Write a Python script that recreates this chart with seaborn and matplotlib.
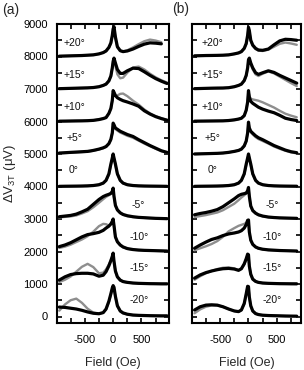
import matplotlib
matplotlib.use("Agg")
import matplotlib.pyplot as plt
import seaborn as sns
import numpy as np
from matplotlib.ticker import MultipleLocator, FixedLocator, NullFormatter

# ---------------- data ----------------
field = [-950, -850, -750, -650, -550, -450, -350, -250, -175, -125, -75, -40, -15,
         0, 15, 40, 75, 125, 175, 250, 350, 450, 550, 650, 750, 850, 950]
angles = ["+20°", "+15°", "+10°", "+5°", "0°", "-5°", "-10°", "-15°", "-20°"]

# panel (a): black (k) and gray (g) traces, already offset
a_p20_k = [8010, 8015, 8020, 8025, 8030, 8040, 8050, 8080, 8120, 8170, 8280, 8420, 8650, 8850, 8920, 8600, 8300, 8180, 8150, 8170, 8230, 8310, 8380, 8420, 8410, 8390]
a_p20_g = [8010, 8015, 8020, 8025, 8030, 8040, 8050, 8080, 8120, 8170, 8270, 8400, 8620, 8820, 8880, 8560, 8280, 8170, 8150, 8190, 8280, 8380, 8470, 8520, 8490, 8440]
a_p15_k = [7010, 7015, 7020, 7025, 7030, 7035, 7045, 7070, 7110, 7150, 7250, 7400, 7650, 7850, 7950, 7800, 7600, 7480, 7480, 7560, 7640, 7630, 7530, 7420, 7320, 7240, 7170]
a_p15_g = [7010, 7015, 7020, 7025, 7030, 7035, 7045, 7070, 7110, 7150, 7250, 7400, 7640, 7830, 7920, 7700, 7450, 7330, 7350, 7500, 7660, 7690, 7600, 7470, 7360, 7270, 7200]
a_p10_k = [6010, 6012, 6015, 6018, 6020, 6025, 6035, 6060, 6090, 6120, 6250, 6400, 6650, 6950, 6900, 6800, 6730, 6680, 6640, 6600, 6540, 6470, 6330, 6230, 6150, 6090, 6040]
a_p10_g = [6010, 6012, 6015, 6018, 6020, 6025, 6035, 6060, 6090, 6120, 6250, 6400, 6640, 6900, 6850, 6780, 6800, 6850, 6860, 6780, 6640, 6520, 6370, 6250, 6160, 6100, 6050]
a_p5_k = [5030, 5040, 5050, 5060, 5070, 5080, 5110, 5150, 5190, 5230, 5320, 5450, 5650, 5950, 5900, 5800, 5760, 5700, 5660, 5600, 5540, 5440, 5350, 5260, 5180, 5100, 5050]
a_p5_g = [5020, 5030, 5040, 5050, 5060, 5070, 5100, 5140, 5180, 5220, 5310, 5440, 5640, 5930, 5870, 5770, 5720, 5660, 5620, 5560, 5500, 5410, 5320, 5240, 5160, 5090, 5040]
a_0_k = [4005, 4008, 4010, 4012, 4015, 4020, 4030, 4055, 4105, 4190, 4390, 4690, 4880, 5000, 4880, 4690, 4390, 4190, 4105, 4055, 4030, 4020, 4015, 4012, 4010, 4008, 4005]
a_0_g = [4000, 4003, 4005, 4008, 4010, 4015, 4025, 4050, 4100, 4180, 4370, 4660, 4850, 4980, 4860, 4670, 4380, 4180, 4100, 4050, 4025, 4015, 4010, 4008, 4005, 4003, 4000]
a_m5_k = [3070, 3090, 3110, 3150, 3220, 3300, 3450, 3600, 3690, 3730, 3760, 3790, 3850, 3950, 3700, 3420, 3280, 3190, 3140, 3100, 3070, 3050, 3040, 3030, 3020, 3015, 3010]
a_m5_g = [3050, 3065, 3080, 3110, 3170, 3240, 3360, 3500, 3610, 3680, 3730, 3770, 3840, 3940, 3690, 3410, 3270, 3180, 3130, 3090, 3060, 3045, 3035, 3025, 3018, 3012, 3008]
a_m10_k = [2150, 2200, 2270, 2360, 2450, 2520, 2550, 2590, 2650, 2720, 2780, 2850, 2930, 3000, 2800, 2450, 2300, 2200, 2140, 2090, 2060, 2045, 2035, 2030, 2025, 2020, 2015]
a_m10_g = [2110, 2150, 2210, 2290, 2370, 2470, 2610, 2780, 2850, 2840, 2800, 2830, 2910, 2980, 2780, 2430, 2290, 2190, 2130, 2085, 2055, 2040, 2030, 2025, 2020, 2015, 2010]
a_m15_k = [1120, 1220, 1290, 1320, 1330, 1330, 1310, 1240, 1270, 1380, 1560, 1720, 1850, 1950, 1700, 1400, 1220, 1120, 1075, 1050, 1030, 1020, 1015, 1010, 1008, 1005, 1005]
a_m15_g = [1060, 1130, 1230, 1380, 1530, 1620, 1520, 1330, 1350, 1450, 1600, 1730, 1840, 1930, 1680, 1380, 1210, 1110, 1070, 1045, 1028, 1018, 1012, 1008, 1005, 1003, 1002]
a_m20_k = [290, 280, 255, 230, 190, 140, 100, 85, 120, 230, 470, 700, 880, 950, 900, 620, 330, 170, 110, 70, 45, 35, 30, 25, 22, 20, 20]
a_m20_g = [180, 370, 500, 550, 420, 240, 120, 85, 115, 220, 450, 680, 860, 930, 880, 600, 320, 160, 100, 65, 40, 30, 25, 20, 18, 15, 15]

# panel (b)
b_p20_k = [8020, 8025, 8030, 8032, 8035, 8040, 8050, 8080, 8110, 8150, 8250, 8400, 8650, 8900, 8800, 8500, 8350, 8250, 8200, 8190, 8230, 8360, 8480, 8530, 8520, 8500]
b_p20_g = [8020, 8025, 8030, 8032, 8035, 8040, 8050, 8080, 8110, 8150, 8240, 8380, 8620, 8870, 8780, 8480, 8330, 8230, 8180, 8170, 8210, 8300, 8390, 8430, 8400, 8360]
b_p15_k = [7010, 7015, 7020, 7025, 7028, 7030, 7040, 7070, 7110, 7150, 7260, 7420, 7650, 7900, 7950, 7800, 7650, 7500, 7450, 7500, 7560, 7510, 7420, 7340, 7260, 7180]
b_p15_g = [7010, 7015, 7020, 7025, 7028, 7030, 7040, 7070, 7110, 7150, 7250, 7400, 7630, 7880, 7920, 7760, 7600, 7450, 7400, 7470, 7540, 7480, 7380, 7280, 7180, 7090]
b_p10_k = [6010, 6012, 6014, 6016, 6018, 6020, 6030, 6050, 6075, 6100, 6180, 6350, 6600, 6950, 6750, 6620, 6560, 6500, 6440, 6380, 6320, 6270, 6190, 6100, 6060, 6030]
b_p10_g = [6010, 6012, 6014, 6016, 6018, 6020, 6030, 6050, 6075, 6100, 6180, 6340, 6590, 6920, 6780, 6700, 6680, 6660, 6640, 6590, 6510, 6430, 6330, 6240, 6180, 6130]
b_p5_k = [5000, 5005, 5010, 5015, 5020, 5030, 5050, 5080, 5110, 5150, 5250, 5400, 5650, 5980, 5800, 5700, 5640, 5560, 5500, 5440, 5350, 5260, 5190, 5120, 5070, 5040]
b_p5_g = [5000, 5005, 5010, 5015, 5020, 5030, 5050, 5080, 5110, 5150, 5240, 5390, 5630, 5950, 5770, 5670, 5600, 5520, 5460, 5400, 5320, 5230, 5160, 5100, 5050, 5020]
b_0_k = [4005, 4008, 4010, 4012, 4015, 4020, 4030, 4055, 4105, 4190, 4390, 4690, 4880, 5000, 4880, 4690, 4390, 4190, 4105, 4055, 4030, 4020, 4015, 4012, 4010, 4008]
b_0_g = [4000, 4003, 4005, 4008, 4010, 4015, 4025, 4050, 4100, 4180, 4370, 4660, 4850, 4980, 4860, 4670, 4380, 4180, 4100, 4050, 4025, 4015, 4010, 4008, 4005, 4003]
b_m5_k = [3130, 3170, 3200, 3240, 3290, 3380, 3500, 3620, 3720, 3760, 3780, 3800, 3870, 3970, 3700, 3400, 3260, 3180, 3130, 3090, 3060, 3045, 3035, 3030, 3025, 3020]
b_m5_g = [3060, 3090, 3120, 3160, 3200, 3270, 3370, 3470, 3580, 3660, 3730, 3780, 3860, 3960, 3690, 3390, 3250, 3170, 3120, 3085, 3055, 3040, 3030, 3025, 3020, 3015]
b_m10_k = [2100, 2200, 2290, 2370, 2420, 2490, 2540, 2570, 2600, 2640, 2720, 2830, 2960, 2970, 2600, 2350, 2220, 2140, 2100, 2070, 2050, 2040, 2030, 2025, 2020, 2015]
b_m10_g = [2040, 2100, 2160, 2230, 2320, 2450, 2620, 2720, 2790, 2820, 2850, 2880, 2950, 2960, 2590, 2340, 2210, 2130, 2090, 2065, 2045, 2035, 2028, 2022, 2018, 2012]
b_m15_k = [1180, 1280, 1350, 1400, 1440, 1470, 1480, 1460, 1420, 1470, 1620, 1780, 1920, 1900, 1550, 1300, 1150, 1080, 1050, 1030, 1020, 1015, 1010, 1008, 1006, 1005]
b_m15_g = [1130, 1240, 1330, 1400, 1460, 1500, 1510, 1480, 1430, 1470, 1600, 1760, 1900, 1890, 1540, 1290, 1140, 1075, 1045, 1028, 1018, 1012, 1008, 1006, 1004, 1003]
b_m20_k = [200, 300, 350, 360, 350, 300, 230, 170, 150, 200, 400, 700, 930, 920, 600, 330, 170, 90, 60, 40, 30, 25, 20, 15, 12, 10]
b_m20_g = [100, 220, 300, 340, 340, 300, 230, 170, 150, 195, 390, 690, 910, 900, 590, 320, 165, 85, 55, 38, 28, 22, 18, 14, 11, 9]

label_y = [8420, 7435, 6450, 5500, 4515, 3435, 2450, 1500, 515]

panel_a_black = [a_p20_k, a_p15_k, a_p10_k, a_p5_k, a_0_k, a_m5_k, a_m10_k, a_m15_k, a_m20_k]
panel_a_gray = [a_p20_g, a_p15_g, a_p10_g, a_p5_g, a_0_g, a_m5_g, a_m10_g, a_m15_g, a_m20_g]
panel_b_black = [b_p20_k, b_p15_k, b_p10_k, b_p5_k, b_0_k, b_m5_k, b_m10_k, b_m15_k, b_m20_k]
panel_b_gray = [b_p20_g, b_p15_g, b_p10_g, b_p5_g, b_0_g, b_m5_g, b_m10_g, b_m15_g, b_m20_g]

# ---------------- style ----------------
sns.set_style("ticks")
plt.rcParams["font.family"] = ["Liberation Sans", "DejaVu Sans"]
plt.rcParams["axes.unicode_minus"] = False
plt.rcParams["mathtext.fontset"] = "custom"
plt.rcParams["mathtext.rm"] = "Liberation Sans"
plt.rcParams["mathtext.it"] = "Liberation Sans:italic"

W, H = 304, 370
fig = plt.figure(figsize=(W / 100, H / 100), dpi=100)
ax_a = fig.add_axes([57 / W, 1 - 323 / H, 112 / W, 299 / H])
ax_b = fig.add_axes([192 / W, 1 - 323 / H, 109 / W, 299 / H])

GRAY = "#8e8e8e"
for ax, blacks, grays, xlim, lab_x_pos, lab_x_neg in [
        (ax_a, panel_a_black, panel_a_gray, (-990, 985), -690, 450),
        (ax_b, panel_b_black, panel_b_gray, (-995, 925), -640, 415)]:
    for g, k in zip(grays, blacks):
        sns.lineplot(x=field[:len(g)], y=g, ax=ax, color=GRAY, linewidth=1.7,
                     legend=False, sort=False)
        sns.lineplot(x=field[:len(k)], y=k, ax=ax, color="black", linewidth=2.3,
                     legend=False, sort=False)
    for i, (lab, yv) in enumerate(zip(angles, label_y)):
        xv = lab_x_pos if i < 5 else lab_x_neg
        ax.text(xv, yv, lab, fontsize=7.5, ha="center", va="center", color="#111111")
    ax.set_xlim(*xlim)
    ax.set_ylim(-200, 9000)
    ax.xaxis.set_major_locator(FixedLocator([-500, 0, 500]))
    ax.xaxis.set_minor_locator(FixedLocator([-750, -250, 250, 750]))
    ax.yaxis.set_major_locator(MultipleLocator(1000))
    ax.yaxis.set_minor_locator(MultipleLocator(500))
    ax.tick_params(which="both", direction="in", top=True, right=True,
                   length=3.6, width=1.2, labelsize=8, colors="black")
    ax.tick_params(axis="x", which="major", pad=8.5)
    ax.tick_params(axis="y", which="major", pad=6.5)
    for s in ax.spines.values():
        s.set_linewidth(1.5)
        s.set_color("black")
    ax.set_xlabel("Field (Oe)", fontsize=9, labelpad=9)
    ax.set_ylabel("")

ax_b.set_yticklabels([])
ax_a.set_ylabel("ΔV$_{\\mathrm{3T}}$ (μV)", fontsize=9.5, labelpad=4)

fig.text(2 / W, 1 - 10 / H, "(a)", fontsize=10, ha="left", va="center")
fig.text(172 / W, 1 - 9 / H, "(b)", fontsize=10, ha="left", va="center")

fig.savefig("out.png", dpi=100)
